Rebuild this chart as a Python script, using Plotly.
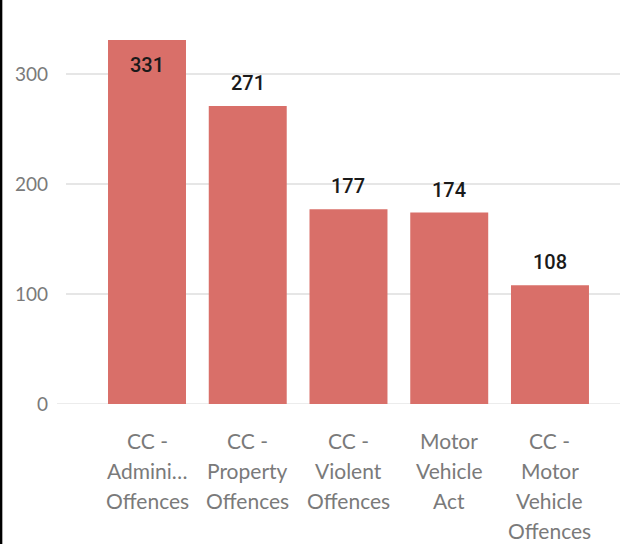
import plotly.graph_objects as go

categories = ["CC -<br>Admini…<br>Offences", "CC -<br>Property<br>Offences",
              "CC -<br>Violent<br>Offences", "Motor<br>Vehicle<br>Act",
              "CC -<br>Motor<br>Vehicle<br>Offences"]
values = [331, 271, 177, 174, 108]
label_inside = [True, False, False, False, False]
y_ticks = [0, 100, 200, 300]

BAR = "#D96F69"
GRAY = "#7A7A7A"
GRID = "#E6E6E6"
W, H = 620, 544
ML, MR, MT, MB = 66, 0, 30, 140
PW = W - ML - MR
PH = H - MT - MB

fig = go.Figure()
xs = list(range(len(categories)))
fig.add_trace(go.Bar(x=xs, y=values, marker_color=BAR, marker_line_width=0,
                     hoverinfo="skip"))

annotations = []
for i, (v, inside) in enumerate(zip(values, label_inside)):
    annotations.append(dict(x=i, y=v, xref="x", yref="y", text=str(v),
                            showarrow=False, yshift=-25 if inside else 23,
                            font=dict(family="Roboto", size=20, color="#1a1a1a",
                                      weight=500)))
for i, cat in enumerate(categories):
    for j, line in enumerate(cat.split("<br>")):
        annotations.append(dict(x=i, y=0, xref="x", yref="y", text=line,
                                showarrow=False, yanchor="middle",
                                yshift=-36 - 30 * j,
                                font=dict(family="Lato", size=21, color=GRAY)))

fig.update_layout(
    width=W, height=H,
    margin=dict(l=ML, r=MR, t=MT, b=MB),
    paper_bgcolor="white", plot_bgcolor="white",
    bargap=0.226, showlegend=False,
    annotations=annotations,
    shapes=[
        dict(type="line", xref="paper", yref="paper",
             x0=-ML / PW + 0.0015, x1=-ML / PW + 0.0015,
             y0=-MB / PH, y1=1 + MT / PH,
             line=dict(color="black", width=3)),
        dict(type="line", xref="paper", yref="y", layer="below",
             x0=-9 / PW, x1=1, y0=0, y1=0,
             line=dict(color=GRID, width=1.5)),
    ],
    xaxis=dict(range=[-0.804, 4.695], showticklabels=False, showgrid=False,
               zeroline=False, showline=False, fixedrange=True),
    yaxis=dict(range=[0, 340], tickvals=y_ticks, showgrid=True,
               gridcolor=GRID, gridwidth=1.5, zeroline=False,
               tickfont=dict(family="Lato", size=19, color=GRAY),
               ticklabelstandoff=17, showline=False, fixedrange=True),
)

fig.write_html("out.html", config={"displayModeBar": False},
               post_script="document.body.style.margin='0';")
